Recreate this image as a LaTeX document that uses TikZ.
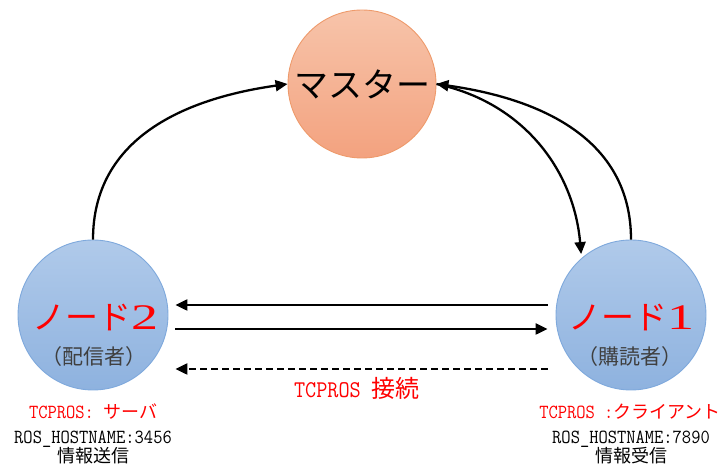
\documentclass[tikz,border=0pt]{standalone}
\usepackage{fontspec}
\usetikzlibrary{arrows.meta}
\newfontfamily\jp{Noto Sans CJK JP}
\newfontfamily\monoL[FakeStretch=0.9]{Latin Modern Mono}
\newfontfamily\serifW[FakeStretch=1.5]{Liberation Serif}
\definecolor{mtop}{HTML}{F7C4AA}
\definecolor{mbot}{HTML}{F3A27F}
\definecolor{mdraw}{HTML}{EE9A6B}
\definecolor{btop}{HTML}{B0CAEA}
\definecolor{bbot}{HTML}{8EB2DF}
\definecolor{bdraw}{HTML}{7FA9DC}
\definecolor{txtred}{HTML}{FF0000}
\definecolor{txtgray}{HTML}{3F3F3F}
\tikzset{
  mastercircle/.style={circle, draw=mdraw, line width=0.9pt, top color=mtop, bottom color=mbot, minimum size=148pt, inner sep=0pt},
  rosnode/.style={circle, draw=bdraw, line width=0.9pt, top color=btop, bottom color=bbot, minimum size=150pt, inner sep=0pt},
  arr/.style={line width=2.3pt, -{Triangle[length=12pt,width=11pt]}},
  txt/.style={inner sep=0pt, anchor=base},
  small/.style={txt, font=\fontsize{20}{24}\selectfont},
}
\begin{document}
\begin{tikzpicture}[x=1pt,y=1pt]
\useasboundingbox (0,0) rectangle (723,471);
% circles
\node[mastercircle] (m) at (362,387) {};
\node[rosnode] (n2) at (93,156) {};
\node[rosnode] (n1) at (631,156) {};
% texts inside circles
\node[txt] (mt) at (362,373) {\fontsize{34}{40}\selectfont\jp マスター};
\node[txt, text=txtred] (n2t) at (95,141) {\fontsize{33}{36}\selectfont\jp ノード\serifW\fontsize{36}{36}\selectfont 2};
\node[txt, text=txtgray] (n2s) at (94,106) {\fontsize{21}{24}\selectfont\jp （配信者）};
\node[txt, text=txtred] (n1t) at (631,141) {\fontsize{33}{36}\selectfont\jp ノード\serifW\fontsize{36}{36}\selectfont 1};
\node[txt, text=txtgray] (n1s) at (630,106) {\fontsize{21}{24}\selectfont\jp （購読者）};
% labels under node 2
\node[small, text=txtred] (l2a) at (93,52) {\monoL TCPROS: \jp\fontsize{18}{22}\selectfont サーバ};
\node[small] (l2b) at (93,27) {\monoL ROS\_HOSTNAME:3456};
\node[small] (l2c) at (93,8) {\jp\fontsize{18}{22}\selectfont 情報送信};
% labels under node 1
\node[small, text=txtred] (l1a) at (630,52) {\monoL TCPROS :\jp\fontsize{18}{22}\selectfont クライアント};
\node[small] (l1b) at (631,27) {\monoL ROS\_HOSTNAME:7890};
\node[small] (l1c) at (631,8) {\jp\fontsize{18}{22}\selectfont 情報受信};
% TCPROS label
\node[txt, text=txtred] (tc) at (357,73) {\monoL\fontsize{24}{28}\selectfont TCPROS \jp 接続};
% horizontal connectors
\draw[arr, shorten <=8pt, shorten >=7pt] ([yshift=10pt]n1.west) -- ([yshift=10pt]n2.east);
\draw[arr, shorten <=7pt, shorten >=8pt] ([yshift=-14pt]n2.east) -- ([yshift=-14pt]n1.west);
\draw[arr, dashed, dash pattern=on 7pt off 4pt, shorten <=8pt, shorten >=7pt] ([yshift=-54pt]n1.west) -- ([yshift=-54pt]n2.east);
% curved connectors
\draw[arr] (n2.north) to[out=90, in=188, looseness=1.05] (m.west);
\draw[arr] (n1.north) to[out=90, in=-8, looseness=1.05] (m.east);
\draw[arr, shorten >=4pt] (m.east) to[out=-12, in=95, looseness=1] (n1.131);
\end{tikzpicture}
\end{document}
